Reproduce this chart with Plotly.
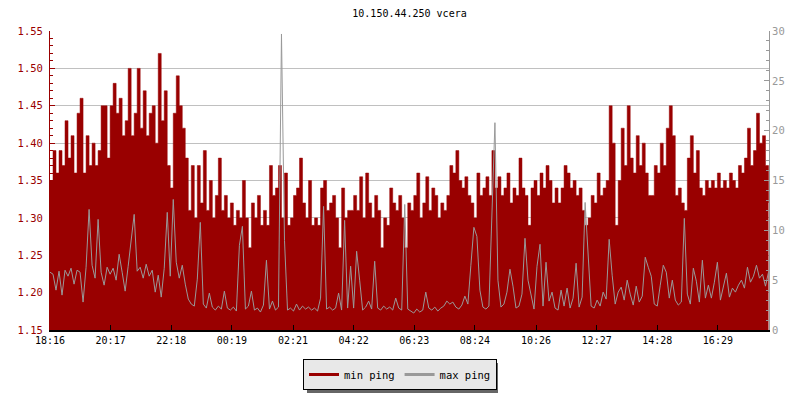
import plotly.graph_objects as go

# ---- data ----
title_text = "10.150.44.250 vcera"
sample_minutes = 6  # one sample every 6 minutes starting 18:16
tick_labels = ["18:16", "20:17", "22:18", "00:19", "02:21", "04:22",
               "06:23", "08:24", "10:26", "12:27", "14:28", "16:29"]

min_ping = [
    # 18:16 - 20:16
    1.35, 1.39, 1.36, 1.39, 1.37, 1.43, 1.38, 1.41, 1.36, 1.44,
    1.46, 1.36, 1.41, 1.37, 1.40, 1.37, 1.39, 1.45, 1.45, 1.38,
    # 20:16 - 22:16
    1.45, 1.48, 1.44, 1.46, 1.41, 1.43, 1.50, 1.41, 1.44, 1.50,
    1.42, 1.47, 1.41, 1.44, 1.45, 1.40, 1.52, 1.43, 1.47, 1.37,
    # 22:16 - 00:16
    1.34, 1.44, 1.49, 1.45, 1.42, 1.38, 1.31, 1.37, 1.30, 1.37,
    1.32, 1.39, 1.31, 1.35, 1.30, 1.33, 1.38, 1.31, 1.33, 1.30,
    # 00:16 - 02:16
    1.32, 1.29, 1.31, 1.30, 1.35, 1.30, 1.26, 1.32, 1.30, 1.33,
    1.29, 1.31, 1.29, 1.37, 1.33, 1.34, 1.37, 1.30, 1.36, 1.29,
    # 02:16 - 04:16
    1.30, 1.33, 1.34, 1.38, 1.32, 1.30, 1.35, 1.29, 1.30, 1.29,
    1.34, 1.35, 1.31, 1.32, 1.33, 1.30, 1.26, 1.34, 1.30, 1.31,
    # 04:16 - 06:16
    1.31, 1.33, 1.31, 1.355, 1.30, 1.36, 1.32, 1.30, 1.33, 1.31,
    1.26, 1.30, 1.29, 1.34, 1.32, 1.31, 1.33, 1.30, 1.26, 1.32,
    # 06:16 - 08:16
    1.31, 1.33, 1.36, 1.30, 1.32, 1.355, 1.31, 1.34, 1.33, 1.30,
    1.32, 1.31, 1.33, 1.37, 1.36, 1.39, 1.35, 1.34, 1.355, 1.33,
    # 08:16 - 10:16
    1.32, 1.30, 1.36, 1.33, 1.34, 1.355, 1.33, 1.39, 1.34, 1.355,
    1.33, 1.34, 1.36, 1.32, 1.34, 1.33, 1.38, 1.34, 1.33, 1.29,
    # 10:16 - 12:16
    1.34, 1.35, 1.33, 1.36, 1.34, 1.37, 1.35, 1.32, 1.34, 1.32,
    1.34, 1.37, 1.36, 1.34, 1.35, 1.33, 1.34, 1.31, 1.29, 1.30,
    # 12:16 - 14:16
    1.33, 1.32, 1.36, 1.33, 1.34, 1.35, 1.45, 1.40, 1.29, 1.35,
    1.42, 1.37, 1.45, 1.38, 1.36, 1.41, 1.37, 1.40, 1.36, 1.33,
    # 14:16 - 16:16
    1.33, 1.37, 1.36, 1.40, 1.37, 1.42, 1.45, 1.41, 1.33, 1.34,
    1.32, 1.31, 1.38, 1.41, 1.36, 1.39, 1.34, 1.33, 1.35, 1.34,
    # 16:16 - 18:16
    1.35, 1.34, 1.36, 1.34, 1.35, 1.34, 1.36, 1.35, 1.34, 1.37,
    1.36, 1.38, 1.42, 1.37, 1.39, 1.44, 1.40, 1.41, 1.37, 1.32,
]

max_ping = [
    5.8, 5.6, 4.0, 5.9, 3.5, 6.0, 5.4, 6.2, 4.6, 6.0,
    5.8, 2.8, 6.3, 12.1, 6.5, 5.2, 11.1, 5.8, 4.5, 6.3,
    5.6, 6.2, 5.0, 7.6, 5.8, 3.9, 6.4, 9.0, 11.6, 5.9,
    6.3, 5.2, 6.6, 5.4, 6.0, 3.8, 5.5, 3.3, 6.2, 11.8,
    5.4, 13.1, 6.8, 5.2, 6.5, 4.6, 3.1, 2.6, 2.4, 5.1,
    10.8, 2.6, 2.2, 3.7, 2.3, 2.0, 2.4, 2.1, 3.9, 2.2,
    2.0, 2.3, 1.9, 8.5, 10.4, 2.1, 2.4, 3.9, 2.0, 2.2,
    1.8, 2.5, 7.0, 2.1, 2.9, 2.0, 2.3, 29.7, 9.0, 2.0,
    2.2, 1.9, 2.6, 2.0, 2.4, 2.1, 2.3, 2.0, 2.2, 1.9,
    3.2, 12.4, 2.1, 2.3, 2.0, 2.2, 3.7, 2.0, 11.0, 2.2,
    6.4, 2.2, 7.9, 5.0, 2.0, 2.3, 2.9, 2.1, 6.9, 2.2,
    2.0, 2.4, 2.1, 2.3, 2.0, 3.2, 2.2, 2.0, 12.6, 2.1,
    1.9, 1.7, 2.1, 1.8, 2.0, 3.8, 2.2, 2.0, 2.3, 1.9,
    2.2, 2.4, 2.9, 2.6, 2.8, 2.3, 2.1, 2.5, 3.4, 2.6,
    6.5, 10.3, 9.4, 4.0, 2.3, 2.1, 2.4, 11.5, 20.8, 5.0,
    2.3, 2.6, 3.8, 6.1, 4.4, 2.2, 2.4, 3.6, 9.2, 5.0,
    3.4, 2.1, 6.4, 8.6, 2.4, 6.8, 2.9, 3.8, 2.2, 2.0,
    4.0, 2.4, 4.2, 2.2, 3.2, 6.7, 2.3, 3.3, 12.8, 7.0,
    2.4, 2.2, 3.0, 2.4, 3.8, 3.1, 9.1, 5.5, 2.6, 3.8,
    4.3, 3.0, 5.0, 3.6, 2.5, 4.4, 2.8, 3.4, 7.3, 6.3,
    5.4, 2.6, 2.4, 4.5, 6.5, 5.8, 3.2, 5.0, 3.0, 2.5,
    2.8, 11.2, 3.6, 2.6, 6.2, 4.9, 2.8, 7.0, 3.2, 4.5,
    3.2, 4.8, 6.8, 3.0, 4.5, 5.7, 3.3, 4.2, 3.8, 4.5,
    5.0, 4.2, 6.3, 4.8, 5.4, 6.5, 5.2, 5.6, 4.4, 5.8,
]

# ---- derived ----
RED = "#990000"
GRAY = "#999999"
FONT = "DejaVu Sans Mono"
start_min = 18 * 60 + 16
x_minutes = [i * sample_minutes for i in range(len(min_ping))]
tick_vals = [((int(t[:2]) * 60 + int(t[3:])) - start_min) % 1440 for t in tick_labels]

fig = go.Figure()
fig.add_trace(go.Scatter(
    x=x_minutes, y=min_ping, mode="lines", line=dict(color=RED, width=0.5, shape="hv"),
    fill="tozeroy", fillcolor=RED, showlegend=False, hoverinfo="skip", yaxis="y"))
fig.add_trace(go.Scatter(
    x=x_minutes, y=max_ping, mode="lines", line=dict(color=GRAY, width=1),
    showlegend=False, hoverinfo="skip", yaxis="y2"))
# legend entries
fig.add_trace(go.Scatter(x=[None], y=[None], mode="lines", name="min ping",
                         line=dict(color=RED, width=3)))
fig.add_trace(go.Scatter(x=[None], y=[None], mode="lines", name="max ping",
                         line=dict(color=GRAY, width=3), yaxis="y2"))

fig.update_layout(
    width=800, height=400,
    margin=dict(l=50, r=31, t=31, b=70),
    paper_bgcolor="white", plot_bgcolor="white",
    font=dict(family=FONT, size=10, color="black"),
    title=dict(text=title_text, x=0.5, xref="paper", xanchor="center",
               y=1 - 13 / 400, yanchor="middle", font=dict(family=FONT, size=10, color="black")),
    xaxis=dict(range=[0, 1435], tickvals=tick_vals, ticktext=tick_labels,
               ticks="inside", ticklen=5, tickcolor="black", tickwidth=1,
               showline=True, linecolor="black", linewidth=2, showgrid=False,
               zeroline=False, tickfont=dict(family=FONT, size=10, color="black")),
    yaxis=dict(range=[1.15, 1.55], tickvals=[1.15, 1.20, 1.25, 1.30, 1.35, 1.40, 1.45, 1.50, 1.55],
               tickformat=".2f", ticks="inside", ticklen=5, tickcolor=RED,
               showline=True, linecolor=RED, linewidth=1, ticklabelstandoff=4,
               showgrid=True, gridcolor="#c0c0c0", gridwidth=1, zeroline=False,
               minor=dict(dtick=0.01, tick0=1.15, ticks="inside", ticklen=3, tickcolor=RED, showgrid=False),
               tickfont=dict(family=FONT, size=10.5, color=RED)),
    yaxis2=dict(range=[0, 30], overlaying="y", side="right", tickvals=[0, 5, 10, 15, 20, 25, 30],
                ticks="inside", ticklen=5, tickcolor=GRAY,
                showline=True, linecolor=GRAY, linewidth=1, showgrid=False, zeroline=False,
                minor=dict(dtick=1, tick0=0, ticks="inside", ticklen=3, tickcolor=GRAY, showgrid=False),
                tickfont=dict(family=FONT, size=10.5, color=GRAY)),
    legend=dict(orientation="h", xref="container", yref="container",
                x=0.5, xanchor="center", y=1 - 359 / 400, yanchor="top",
                bgcolor="#e8e8e8", bordercolor="black", borderwidth=1,
                font=dict(family=FONT, size=10.5, color="black"),
                itemwidth=30, tracegroupgap=0),
    shapes=[dict(type="rect", xref="paper", yref="paper",
                 x0=(307 - 50) / 719, x1=(498 - 50) / 719,
                 y0=(330 - 393) / 299, y1=(330 - 363) / 299,
                 fillcolor="#666666", line=dict(width=0), layer="below")],
)

fig.write_html("out.html", config={"displayModeBar": False},
               post_script="document.body.style.margin='0';")
